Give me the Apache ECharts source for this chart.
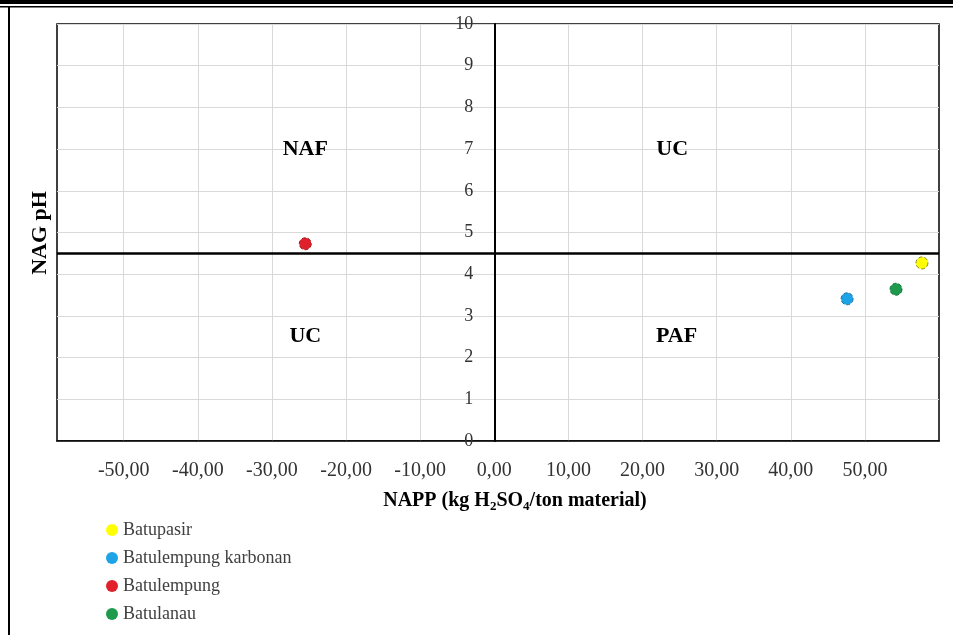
<!DOCTYPE html>
<html>
<head>
<meta charset="utf-8">
<script src="https://cdn.jsdelivr.net/npm/echarts@6/dist/echarts.min.js"></script>
<style>
    html, body { margin: 0; padding: 0; background: #fff; }
    #chart { width: 953px; height: 635px; }
</style>
</head>
<body>
<div id="chart"></div>
<script>
    // data
    const xTicks = [-50, -40, -30, -20, -10, 0, 10, 20, 30, 40, 50];
    const batupasir = [[57.7, 4.27]];
    const batulempungKarbonan = [[47.6, 3.41]];
    const batulempung = [[-25.5, 4.73]];
    const batulanau = [[54.2, 3.64]];
    const nagLimit = [4.5];
    const zoneNames = ['NAF', 'UC', 'UC', 'PAF'];
    const zonePos = [[-25.5, 7], [24, 7], [-25.5, 2.5], [24.6, 2.5]];

    const font = 'Liberation Serif';
    const gridLeft = 57;
    const chart = echarts.init(document.getElementById('chart'));

    function rock(name, data, color, border) {
        return {
            name: name,
            type: 'scatter',
            data: data,
            symbolSize: 12,
            itemStyle: { color: color, opacity: 1, borderColor: border, borderWidth: 1, borderType: 'dashed' },
            z: 5
        };
    }

    chart.setOption({
        animation: false,
        grid: {
            left: gridLeft, right: 14, top: 24, bottom: 194,
            show: true, borderColor: '#000', borderWidth: 1.5
        },
        legend: {
            orient: 'vertical',
            left: 101, top: 516,
            itemGap: 10,
            itemWidth: 12, itemHeight: 12,
            icon: 'circle',
            data: ['Batupasir', 'Batulempung karbonan', 'Batulempung', 'Batulanau'],
            itemStyle: { borderWidth: 0 },
            textStyle: { fontFamily: font, fontSize: 18, color: '#404040' }
        },
        xAxis: {
            type: 'value',
            min: -59, max: 60,
            axisLine: { onZero: false, lineStyle: { color: '#000', width: 1.5 } },
            axisTick: { show: false, customValues: xTicks },
            axisLabel: {
                customValues: xTicks,
                margin: 20,
                fontFamily: font, fontSize: 20, color: '#333',
                formatter: v => v.toFixed(2).replace('.', ',')
            },
            splitLine: { lineStyle: { color: '#d9d9d9', width: 1 } }
        },
        yAxis: {
            type: 'value',
            min: 0, max: 10, interval: 1,
            axisLine: { onZero: false, lineStyle: { color: '#000', width: 2 } },
            axisTick: { show: false },
            axisLabel: { margin: 21, fontFamily: font, fontSize: 18, color: '#333' },
            splitLine: { lineStyle: { color: '#d9d9d9', width: 1 } }
        },
        series: [
            rock('Batupasir', batupasir, '#ffff00', '#8a8a20'),
            rock('Batulempung karbonan', batulempungKarbonan, '#1ea4e6', '#1a6fa0'),
            rock('Batulempung', batulempung, '#e0202a', '#a01818'),
            rock('Batulanau', batulanau, '#1d9a4c', '#14703a'),
            {
                name: 'zones',
                type: 'scatter',
                symbolSize: 0,
                silent: true,
                itemStyle: { opacity: 1 },
                data: zonePos.map((p, i) => ({ value: p, name: zoneNames[i] })),
                label: {
                    show: true, position: 'inside',
                    formatter: p => p.name,
                    fontFamily: font, fontSize: 22, fontWeight: 'bold', color: '#000'
                },
                markLine: {
                    silent: true,
                    symbol: 'none',
                    label: { show: false },
                    lineStyle: { color: '#000', width: 2.5, type: 'solid', opacity: 1 },
                    data: nagLimit.map(v => ({ yAxis: v }))
                }
            }
        ],
        graphic: [
            { type: 'rect', shape: { x: 0, y: 0, width: 953, height: 4 }, style: { fill: '#000' } },
            { type: 'rect', shape: { x: 0, y: 6, width: 953, height: 1.5 }, style: { fill: '#000' } },
            { type: 'rect', shape: { x: 8, y: 7, width: 2, height: 628 }, style: { fill: '#000' } },
            {
                type: 'text', x: 40, y: 233, rotation: Math.PI / 2,
                style: {
                    text: 'NAG pH', fontFamily: font, fontSize: 22, fontWeight: 'bold',
                    fill: '#000', align: 'center', verticalAlign: 'middle'
                }
            },
            {
                type: 'text', x: 515, y: 501,
                style: {
                    text: '{m|NAPP (kg H}{s|2}{m|SO}{s|4}{m|/ton material)}',
                    align: 'center', verticalAlign: 'middle',
                    rich: {
                        m: { fontFamily: font, fontSize: 20, fontWeight: 'bold', fill: '#000', lineHeight: 24 },
                        s: { fontFamily: font, fontSize: 13, fontWeight: 'bold', fill: '#000', lineHeight: 24, verticalAlign: 'bottom' }
                    }
                }
            }
        ]
    });

    // move the y axis (line + labels) onto x = 0
    const zeroX = chart.convertToPixel({ xAxisIndex: 0 }, 0);
    chart.setOption({ yAxis: { offset: -(zeroX - gridLeft) } });
</script>
</body>
</html>
